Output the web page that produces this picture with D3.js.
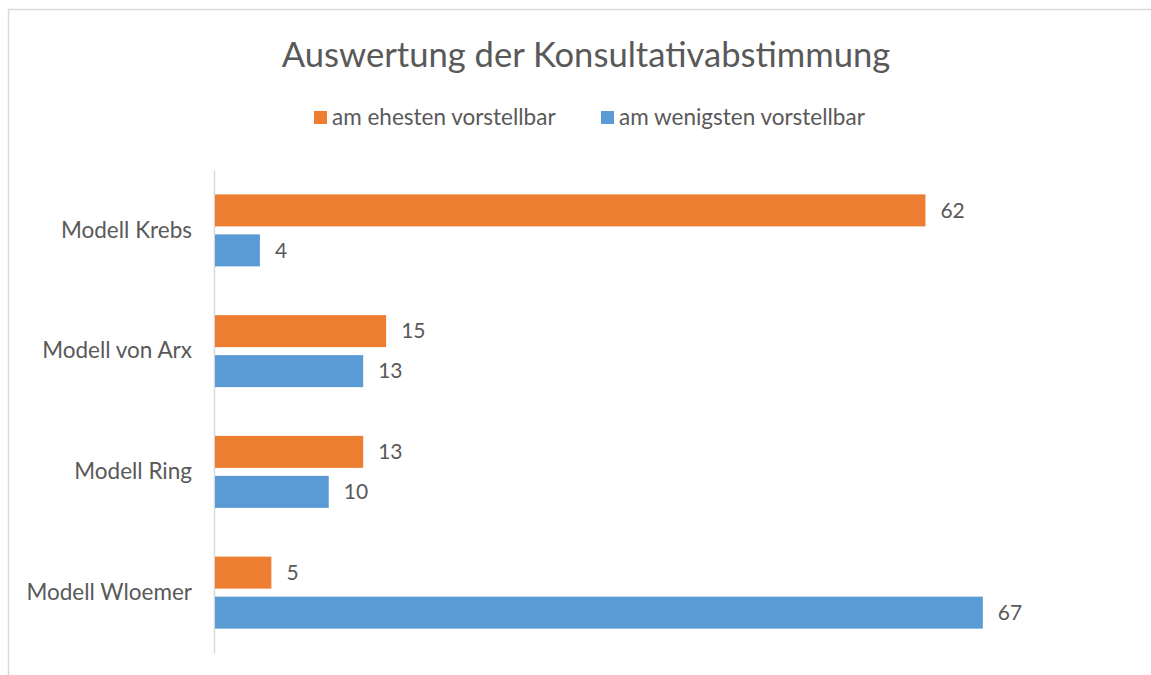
<!DOCTYPE html>
<html>
<head>
<meta charset="utf-8">
<script src="https://cdn.jsdelivr.net/npm/d3@7"></script>
<style>
  body { margin: 0; background: white; }
  text { font-family: Lato, "Open Sans", sans-serif; fill: #595959; }
</style>
</head>
<body>
<div id="chart"></div>
<script>
let width = 1151
let height = 675

// data
let categories = ["Modell Krebs", "Modell von Arx", "Modell Ring", "Modell Wloemer"]
let seriesNames = ["am ehesten vorstellbar", "am wenigsten vorstellbar"]
let ehesten = [62, 15, 13, 5]
let wenigsten = [4, 13, 10, 67]
let colors = ["#ED7D31", "#5B9BD5"]

let svg = d3.select("#chart")
    .append("svg")
    .attr("width", width)
    .attr("height", height)

// Rahmen
svg.append("rect")
    .attr("x", 8.5).attr("y", 9.5)
    .attr("width", width + 20).attr("height", height + 20)
    .attr("fill", "none")
    .attr("stroke", "#D9D9D9")
    .attr("stroke-width", 1.5)

// Titel
svg.append("text")
    .attr("x", 586).attr("y", 67)
    .attr("text-anchor", "middle")
    .style("font-size", "34.6px")
    .text("Auswertung der Konsultativabstimmung")

// Legende
let legendX = [314, 601]
let legend = svg.append("g")
    .selectAll("g")
    .data(seriesNames)
    .join("g")
    .attr("transform", (d, i) => `translate(${legendX[i]},111)`)
legend.append("rect")
    .attr("width", 13).attr("height", 13)
    .attr("fill", (d, i) => colors[i])
legend.append("text")
    .attr("x", 18).attr("y", 14)
    .style("font-size", "22.5px")
    .text(d => d)

// Skalen
let x = d3.scaleLinear()
    .domain([0, 80])
    .range([214, 1132])

let y = d3.scaleBand()
    .domain(categories)
    .range([170, 653])

let y_inner = d3.scaleBand()
    .domain([0, 1])
    .range([0, 72])
    .paddingInner(0.2)

let dataset = categories.map((c, i) => [
    { cat: c, s: 0, v: ehesten[i] },
    { cat: c, s: 1, v: wenigsten[i] }
])

// Kategorie-Achse
let yAxis = svg.append("g")
    .attr("transform", "translate(214,0)")
    .call(d3.axisLeft(y).tickSize(0).tickPadding(22))
yAxis.select(".domain").attr("stroke", "#D9D9D9").attr("stroke-width", 1.5)
yAxis.selectAll("text")
    .style("font-size", "22.5px")
    .style("font-family", "Lato, 'Open Sans', sans-serif")
    .attr("fill", "#595959")

// Balken
let groups = svg.append("g")
    .selectAll("g")
    .data(dataset)
    .join("g")
    .attr("transform", d => `translate(0,${y(d[0].cat) + y.bandwidth() / 2 - 36})`)

groups.selectAll("rect")
    .data(d => d)
    .join("rect")
    .attr("x", x(0) + 1)
    .attr("y", d => y_inner(d.s))
    .attr("width", d => x(d.v) - x(0) - 1)
    .attr("height", y_inner.bandwidth())
    .attr("fill", d => colors[d.s])

groups.selectAll("text")
    .data(d => d)
    .join("text")
    .attr("x", d => x(d.v) + 15)
    .attr("y", d => y_inner(d.s) + y_inner.bandwidth() / 2)
    .attr("dy", "0.35em")
    .style("font-size", "21px")
    .text(d => d.v)
</script>
</body>
</html>
